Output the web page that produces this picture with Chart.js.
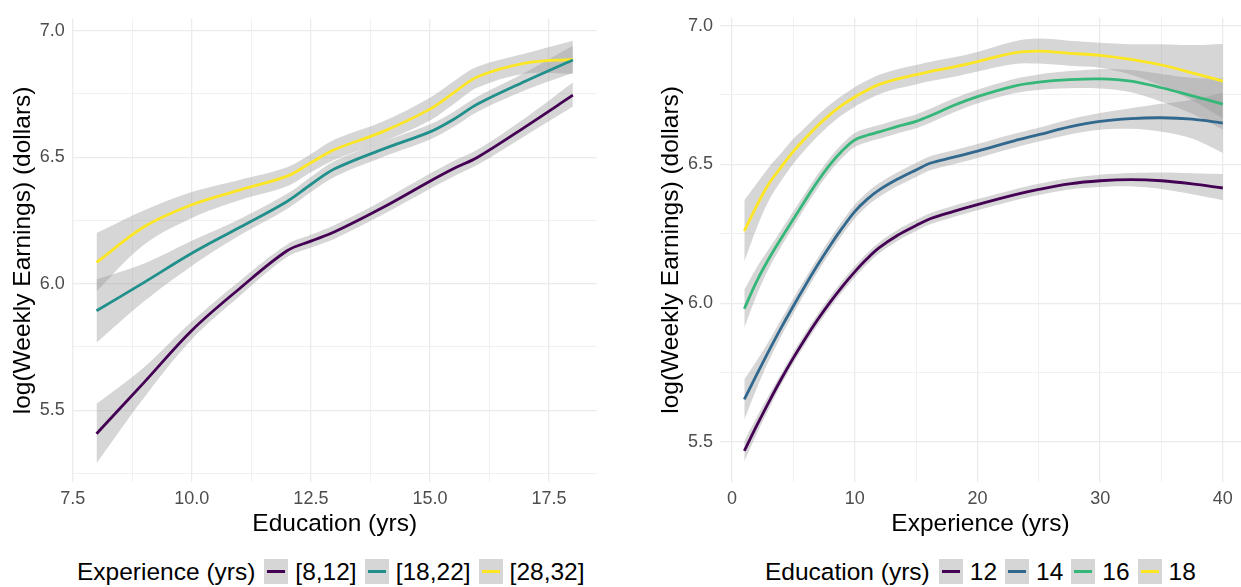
<!DOCTYPE html>
<html>
<head>
<meta charset="utf-8">
<script src="https://cdn.jsdelivr.net/npm/chart.js@4.4.0/dist/chart.umd.min.js"></script>
<style>
  body { margin: 0; background: #fff; width: 1241px; height: 587px; overflow: hidden; position: relative; font-family: "Liberation Sans", Arial, sans-serif; }
  canvas { position: absolute; top: 0; }
  #c1 { left: 0; }
  #c2 { left: 620px; }
  .legend { position: absolute; top: 559px; height: 25px; display: flex; align-items: center; font-size: 24.5px; color: #000; white-space: nowrap; }
  .legend .ttl { margin-right: 9px; }
  .legend .key { width: 24px; height: 25px; background: #d6d6d6; position: relative; margin-right: 7px; }
  .legend .key i { position: absolute; left: 3px; right: 3px; top: 11px; height: 3px; }
  .legend .lab { margin-right: 8px; }
</style>
</head>
<body>
<canvas id="c1" width="620" height="540"></canvas>
<canvas id="c2" width="621" height="540"></canvas>
<div class="legend" id="leg1" style="left:77px"></div>
<div class="legend" id="leg2" style="left:765px"></div>
<script>
// left panel: earnings vs education, grouped by experience
const eduX = [8, 9, 10, 11, 12, 12.5, 13, 14, 15, 15.5, 16, 17, 18];
const expGroups = ["[8,12]", "[18,22]", "[28,32]"];
const expColors = ["#440154", "#21908C", "#FDE725"];

const fitExp8 = [5.407, 5.61, 5.815, 5.98, 6.13, 6.168, 6.205, 6.30, 6.405, 6.455, 6.50, 6.62, 6.745];
const hiExp8  = [5.525, 5.67, 5.85, 6.01, 6.155, 6.193, 6.232, 6.328, 6.435, 6.485, 6.53, 6.655, 6.795];
const loExp8  = [5.29, 5.55, 5.78, 5.95, 6.105, 6.143, 6.178, 6.272, 6.375, 6.425, 6.47, 6.585, 6.70];

const fitExp18 = [5.893, 6.005, 6.12, 6.222, 6.325, 6.392, 6.454, 6.531, 6.60, 6.65, 6.71, 6.80, 6.884];
const hiExp18  = [6.017, 6.08, 6.17, 6.255, 6.355, 6.422, 6.485, 6.56, 6.63, 6.68, 6.74, 6.835, 6.94];
const loExp18  = [5.767, 5.93, 6.07, 6.19, 6.295, 6.362, 6.423, 6.50, 6.57, 6.62, 6.68, 6.765, 6.833];

const fitExp28 = [6.084, 6.225, 6.312, 6.37, 6.425, 6.478, 6.53, 6.60, 6.69, 6.755, 6.818, 6.872, 6.887];
const hiExp28  = [6.20, 6.29, 6.362, 6.41, 6.46, 6.513, 6.57, 6.64, 6.735, 6.80, 6.858, 6.91, 6.96];
const loExp28  = [5.97, 6.155, 6.26, 6.33, 6.385, 6.44, 6.49, 6.56, 6.645, 6.71, 6.775, 6.83, 6.83];

// right panel: earnings vs experience, grouped by education
const expX = [1, 2, 3, 4, 5, 6, 7, 8, 9, 10, 11, 12, 13.5, 15, 16.2, 18, 20, 23, 25, 27.5, 30, 32.5, 35, 37.5, 40];
const eduGroups = ["12", "14", "16", "18"];
const eduColors = ["#440154", "#31688E", "#35B779", "#FDE725"];

const fitEdu12 = [5.468, 5.558, 5.644, 5.726, 5.803, 5.875, 5.942, 6.004, 6.061, 6.113, 6.16, 6.2, 6.245, 6.28, 6.305, 6.33, 6.355, 6.39, 6.41, 6.43, 6.441, 6.445, 6.441, 6.43, 6.415];
const hiEdu12  = [5.503, 5.588, 5.669, 5.746, 5.823, 5.895, 5.962, 6.024, 6.081, 6.133, 6.18, 6.22, 6.265, 6.30, 6.325, 6.35, 6.375, 6.41, 6.43, 6.45, 6.463, 6.469, 6.471, 6.468, 6.465];
const loEdu12  = [5.43, 5.528, 5.619, 5.706, 5.783, 5.855, 5.922, 5.984, 6.041, 6.093, 6.14, 6.18, 6.225, 6.26, 6.285, 6.31, 6.335, 6.37, 6.39, 6.41, 6.419, 6.421, 6.411, 6.392, 6.371];

const fitEdu14 = [5.654, 5.742, 5.828, 5.911, 5.99, 6.066, 6.139, 6.208, 6.272, 6.33, 6.374, 6.408, 6.447, 6.48, 6.505, 6.525, 6.548, 6.585, 6.607, 6.635, 6.655, 6.665, 6.668, 6.663, 6.649];
const hiEdu14  = [5.726, 5.792, 5.863, 5.941, 6.018, 6.092, 6.164, 6.233, 6.297, 6.355, 6.399, 6.433, 6.472, 6.505, 6.53, 6.55, 6.573, 6.61, 6.632, 6.662, 6.685, 6.702, 6.718, 6.733, 6.758];
const loEdu14  = [5.58, 5.692, 5.793, 5.881, 5.962, 6.04, 6.114, 6.183, 6.247, 6.305, 6.349, 6.383, 6.422, 6.455, 6.48, 6.50, 6.523, 6.56, 6.582, 6.608, 6.625, 6.628, 6.618, 6.593, 6.541];

const fitEdu16 = [5.98, 6.078, 6.16, 6.233, 6.303, 6.373, 6.44, 6.50, 6.55, 6.588, 6.605, 6.617, 6.637, 6.655, 6.676, 6.711, 6.744, 6.782, 6.796, 6.805, 6.808, 6.80, 6.776, 6.747, 6.717];
const hiEdu16  = [6.048, 6.128, 6.195, 6.263, 6.331, 6.399, 6.465, 6.525, 6.575, 6.613, 6.63, 6.642, 6.662, 6.68, 6.701, 6.736, 6.769, 6.808, 6.824, 6.836, 6.843, 6.84, 6.826, 6.812, 6.809];
const loEdu16  = [5.912, 6.028, 6.125, 6.203, 6.275, 6.347, 6.415, 6.475, 6.525, 6.563, 6.58, 6.592, 6.612, 6.63, 6.651, 6.686, 6.719, 6.756, 6.768, 6.774, 6.773, 6.76, 6.726, 6.682, 6.625];

const fitEdu18 = [6.26, 6.35, 6.43, 6.49, 6.547, 6.595, 6.64, 6.68, 6.714, 6.743, 6.767, 6.788, 6.808, 6.823, 6.835, 6.85, 6.87, 6.902, 6.908, 6.90, 6.893, 6.878, 6.858, 6.83, 6.80];
const hiEdu18  = [6.371, 6.43, 6.49, 6.54, 6.592, 6.635, 6.678, 6.716, 6.749, 6.778, 6.802, 6.823, 6.843, 6.858, 6.87, 6.885, 6.905, 6.943, 6.953, 6.945, 6.938, 6.933, 6.933, 6.93, 6.934];
const loEdu18  = [6.149, 6.27, 6.37, 6.44, 6.502, 6.555, 6.602, 6.644, 6.679, 6.708, 6.732, 6.753, 6.773, 6.788, 6.80, 6.815, 6.835, 6.862, 6.863, 6.855, 6.848, 6.823, 6.783, 6.73, 6.666];

// axis breaks (major ones get labels, the rest are minor grid lines)
const leftXTicks = [7.5, 8.75, 10, 11.25, 12.5, 13.75, 15, 16.25, 17.5];
const leftXLabels = [7.5, 10, 12.5, 15, 17.5];
const leftYTicks = [5.25, 5.5, 5.75, 6.0, 6.25, 6.5, 6.75, 7.0];
const rightXTicks = [0, 5, 10, 15, 20, 25, 30, 35, 40];
const rightXLabels = [0, 10, 20, 30, 40];
const rightYTicks = [5.5, 5.75, 6.0, 6.25, 6.5, 6.75, 7.0];
const yLabels = [5.5, 6.0, 6.5, 7.0];

const FONT = "'Liberation Sans', Arial, sans-serif";
const BAND = "rgba(153,153,153,0.4)";
const GRID = "#EBEBEB";

function pts(xs, ys) {
  return xs.map((x, i) => ({ x: x, y: ys[i] }));
}

function buildSets(xs, fits, his, los, colors) {
  let sets = [];
  fits.forEach((f, g) => {
    sets.push({ data: pts(xs, his[g]), borderWidth: 0, pointRadius: 0, fill: false, order: 1, tension: 0.35 });
    sets.push({ data: pts(xs, los[g]), borderWidth: 0, pointRadius: 0, fill: "-1", backgroundColor: BAND, order: 1, tension: 0.35 });
  });
  fits.forEach((f, g) => {
    sets.push({ data: pts(xs, f), borderColor: colors[g], borderWidth: 2.8, pointRadius: 0, fill: false, order: 0, tension: 0.35 });
  });
  return sets;
}

function isIn(v, list) {
  return list.some(l => Math.abs(l - v) < 1e-6);
}

function makeOptions(p) {
  return {
    responsive: false,
    animation: false,
    devicePixelRatio: 1,
    layout: { padding: p.padding },
    plugins: { legend: { display: false }, tooltip: { enabled: false } },
    scales: {
      x: {
        type: "linear",
        min: p.xMin, max: p.xMax,
        afterBuildTicks: s => { s.ticks = p.xTicks.map(v => ({ value: v })); },
        afterFit: s => { s.height = 58; },
        grid: {
          color: GRID, drawTicks: false,
          lineWidth: c => (c.tick && isIn(c.tick.value, p.xLabels)) ? 1.3 : 0.7
        },
        border: { display: false },
        ticks: {
          autoSkip: false, maxRotation: 0, padding: 6, color: "#4D4D4D",
          font: { family: FONT, size: 18 },
          callback: v => isIn(v, p.xLabels) ? p.xFmt(v) : ""
        },
        title: { display: true, text: p.xTitle, color: "#000", font: { family: FONT, size: 24.5 }, padding: { top: 0, bottom: 1 } }
      },
      y: {
        type: "linear",
        min: p.yMin, max: p.yMax,
        afterBuildTicks: s => { s.ticks = p.yTicks.map(v => ({ value: v })); },
        afterFit: s => { s.width = p.yWidth; },
        grid: {
          color: GRID, drawTicks: false,
          lineWidth: c => (c.tick && isIn(c.tick.value, yLabels)) ? 1.3 : 0.7
        },
        border: { display: false },
        ticks: {
          autoSkip: false, padding: p.yPad, color: "#4D4D4D",
          font: { family: FONT, size: 18 },
          callback: v => isIn(v, yLabels) ? v.toFixed(1) : ""
        },
        title: { display: true, text: "log(Weekly Earnings) (dollars)", color: "#000", font: { family: FONT, size: 24.5 }, padding: { top: p.yTitlePad, bottom: 0 } }
      }
    }
  };
}

new Chart(document.getElementById("c1").getContext("2d"), {
  type: "line",
  data: { datasets: buildSets(eduX, [fitExp8, fitExp18, fitExp28], [hiExp8, hiExp18, hiExp28], [loExp8, loExp18, loExp28], expColors) },
  options: makeOptions({
    padding: { left: 0, right: 23.3, top: 6.7, bottom: 0 },
    xMin: 7.5, xMax: 18.5, xTicks: leftXTicks, xLabels: leftXLabels, xFmt: v => v.toFixed(1),
    yMin: 5.216, yMax: 7.047, yTicks: leftYTicks, yWidth: 72.7, yPad: 8, yTitlePad: 8.6,
    xTitle: "Education (yrs)"
  })
});

new Chart(document.getElementById("c2").getContext("2d"), {
  type: "line",
  data: { datasets: buildSets(expX, [fitEdu12, fitEdu14, fitEdu16, fitEdu18], [hiEdu12, hiEdu14, hiEdu16, hiEdu18], [loEdu12, loEdu14, loEdu16, loEdu18], eduColors) },
  options: makeOptions({
    padding: { left: 0, right: 0, top: 6.7, bottom: 0 },
    xMin: -0.98, xMax: 41.48, xTicks: rightXTicks, xLabels: rightXLabels, xFmt: v => String(v),
    yMin: 5.356, yMax: 7.028, yTicks: rightYTicks, yWidth: 100, yPad: 7, yTitlePad: 36.6,
    xTitle: "Experience (yrs)"
  })
});

// legends below each panel
function buildLegend(id, title, groups, colors) {
  const el = document.getElementById(id);
  let html = '<span class="ttl">' + title + '</span>';
  groups.forEach((g, i) => {
    html += '<span class="key"><i style="background:' + colors[i] + '"></i></span><span class="lab">' + g + '</span>';
  });
  el.innerHTML = html;
}
buildLegend("leg1", "Experience (yrs)", expGroups, expColors);
buildLegend("leg2", "Education (yrs)", eduGroups, eduColors);
</script>
</body>
</html>
